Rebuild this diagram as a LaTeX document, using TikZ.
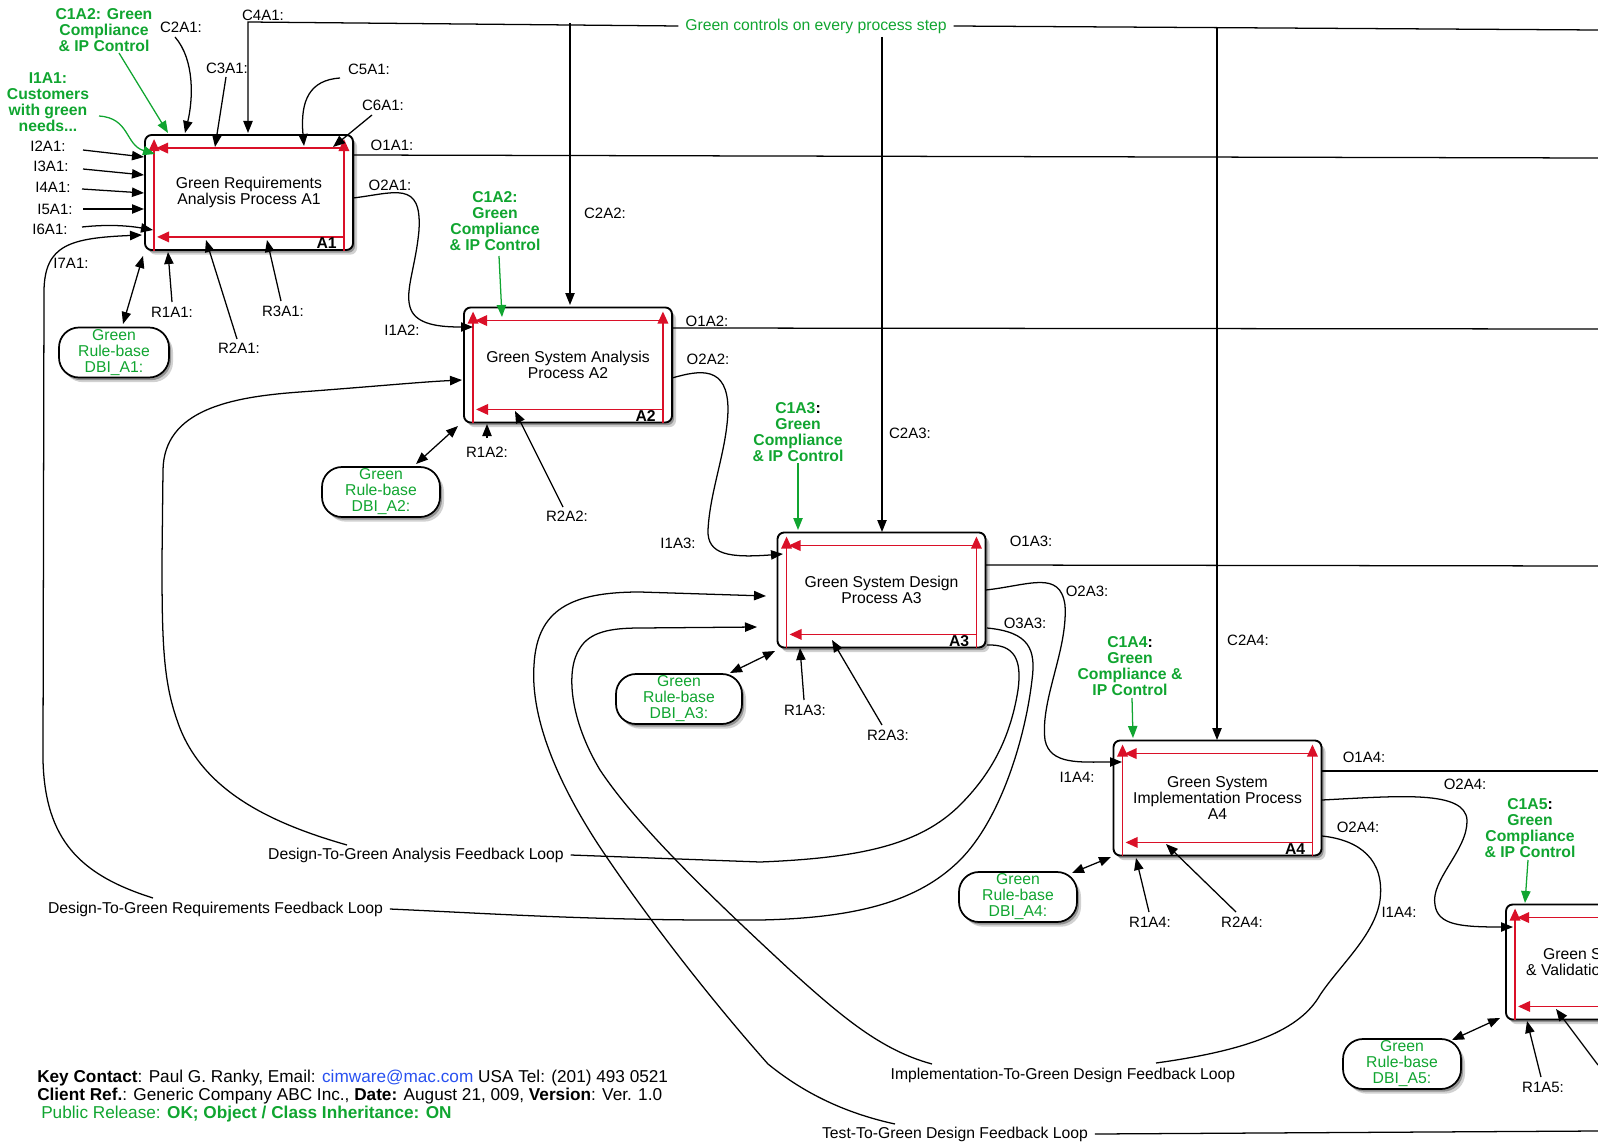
\documentclass[tikz,border=0pt]{standalone}
\usepackage{fontspec}
\setmainfont{Liberation Sans}
\usetikzlibrary{arrows.meta,calc,shadows}
\definecolor{grn}{RGB}{16,165,48}
\definecolor{rd}{RGB}{218,16,40}
\definecolor{eml}{RGB}{40,80,240}
\newcommand\mainsize{\fontsize{11.8}{12}\selectfont}
\tikzset{
 conn/.style={draw=black, line width=0.95pt},
 arr/.style={conn, -{Triangle[length=9pt,width=7pt]}},
 dbl/.style={conn, {Triangle[length=9pt,width=7pt]}-{Triangle[length=9pt,width=7pt]}},
 garr/.style={draw=grn, line width=0.95pt, -{Triangle[length=9pt,width=7pt]}},
 redl/.style={draw=rd, line width=1pt, -{Triangle[length=9pt,width=8pt]}},
 softshadow/.style={drop shadow={shadow xshift=1.5pt,shadow yshift=-2pt,opacity=.3,fill=black},
                    drop shadow={shadow xshift=3pt,shadow yshift=-3.5pt,opacity=.18,fill=black}},
 pbox/.style={draw, line width=1.4pt, rounded corners=5pt, fill=white, minimum width=156pt,
              minimum height=86.25pt, inner sep=0pt, softshadow},
 rbase/.style={draw, line width=1.3pt, rounded corners=15pt, fill=white, text=grn, inner sep=0pt,
               softshadow, minimum height=37.5pt},
 lbl/.style={inner sep=1pt, font=\fontsize{11.25}{12}\selectfont},
 glbl/.style={inner sep=1pt, text=grn, font=\mainsize\bfseries},
 looplbl/.style={inner xsep=5pt, inner ysep=1pt},
 boxid/.style={inner sep=0pt, font=\fontsize{11.8}{12}\selectfont\bfseries},
 foot/.style={anchor=west, inner sep=0pt, font=\fontsize{12.9}{14}\selectfont},
}
\newcommand\redframe[1]{%
 \draw[redl] ($(#1.south west)+(10,0)$) -- ($(#1.north west)+(10,5)$);
 \draw[redl] ($(#1.south east)+(-10,0)$) -- ($(#1.north east)+(-10,5)$);
 \draw[redl] ($(#1.north east)+(-10,14)$) -- ($(#1.north west)+(12,14)$);
 \draw[redl] ($(#1.south east)+(-10,-14)$) -- ($(#1.south west)+(13,-14)$);
 \node[boxid, anchor=base east] (#1id) at ($(#1.south east)+(-17,-2)$) {#1};
}
\begin{document}
\begin{tikzpicture}[x=0.75pt,y=-0.75pt, font=\mainsize, every node/.append style={align=center}]
\useasboundingbox (0,0) rectangle (1598,1145);
\clip (0,0) rectangle (1598,1145);

% process boxes
\node[pbox] (A1) at (249,192.5) {Green Requirements\\Analysis Process A1};
\node[pbox] (A2) at (568,365) {Green System Analysis\\Process A2};
\node[pbox] (A3) at (881.5,590) {Green System Design\\Process A3};
\node[pbox] (A4) at (1217.5,798) {Green System\\Implementation Process\\A4};
\node[pbox] (A5) at (1610,962) {Green System Test\\\& Validation Process A5};
\redframe{A1}
\redframe{A2}
\redframe{A3}
\redframe{A4}
\redframe{A5}

% rule-base nodes
\node[rbase, minimum width=82.5pt] (DB1) at (114,352.5) {Green\\Rule-base\\DBI\_A1:};
\node[rbase, minimum width=88.5pt] (DB2) at (381,492) {Green\\Rule-base\\DBI\_A2:};
\node[rbase, minimum width=94.5pt] (DB3) at (679,699) {Green\\Rule-base\\DBI\_A3:};
\node[rbase, minimum width=88.5pt] (DB4) at (1018,897) {Green\\Rule-base\\DBI\_A4:};
\node[rbase, minimum width=88.5pt] (DB5) at (1402,1064) {Green\\Rule-base\\DBI\_A5:};

% green labels
\node[glbl] (c1a2top) at (104,30) {C1A2: Green\\Compliance\\\& IP Control};
\node[glbl] (i1a1) at (48,102.5) {I1A1:\\Customers\\with green\\needs...};
\node[glbl] (c1a2) at (495,221) {C1A2:\\Green\\Compliance\\\& IP Control};
\node[glbl] (c1a3) at (798,432) {C1A3\textcolor{black}{:}\\Green\\Compliance\\\& IP Control};
\node[glbl] (c1a4) at (1130,666) {C1A4\textcolor{black}{:}\\Green\\Compliance \&\\IP Control};
\node[glbl] (c1a5) at (1530,828) {C1A5\textcolor{black}{:}\\Green\\Compliance\\\& IP Control};
\node[looplbl, text=grn] (gctl) at (816,26) {Green controls on every process step};

% black labels
\node[lbl] (C2A1) at (181,27) {C2A1:};
\node[lbl] (C3A1) at (227,68) {C3A1:};
\node[lbl] (C4A1) at (263,15) {C4A1:};
\node[lbl] (C5A1) at (369,69) {C5A1:};
\node[lbl] (C6A1) at (383,105) {C6A1:};
\node[lbl] (O1A1) at (392,145) {O1A1:};
\node[lbl] (O2A1) at (390,185) {O2A1:};
\node[lbl] (I2A1) at (48,146) {I2A1:};
\node[lbl] (I3A1) at (51,166) {I3A1:};
\node[lbl] (I4A1) at (53,187) {I4A1:};
\node[lbl] (I5A1) at (55,209) {I5A1:};
\node[lbl] (I6A1) at (50,229) {I6A1:};
\node[lbl] (I7A1) at (71,263) {I7A1:};
\node[lbl] (R1A1) at (172,312) {R1A1:};
\node[lbl] (R2A1) at (239,348) {R2A1:};
\node[lbl] (R3A1) at (283,311) {R3A1:};
\node[lbl] (I1A2) at (402,330) {I1A2:};
\node[lbl] (C2A2) at (605,213) {C2A2:};
\node[lbl] (O1A2) at (707,321) {O1A2:};
\node[lbl] (O2A2) at (708,359) {O2A2:};
\node[lbl] (R1A2) at (487,452) {R1A2:};
\node[lbl] (R2A2) at (567,516) {R2A2:};
\node[lbl] (I1A3) at (678,543) {I1A3:};
\node[lbl] (C2A3) at (910,433) {C2A3:};
\node[lbl] (O1A3) at (1031,541) {O1A3:};
\node[lbl] (O2A3) at (1087,591) {O2A3:};
\node[lbl] (O3A3) at (1025,623) {O3A3:};
\node[lbl] (R1A3) at (805,710) {R1A3:};
\node[lbl] (R2A3) at (888,735) {R2A3:};
\node[lbl] (C2A4) at (1248,640) {C2A4:};
\node[lbl] (I1A4a) at (1077,777) {I1A4:};
\node[lbl] (O1A4) at (1364,757) {O1A4:};
\node[lbl] (O2A4a) at (1465,784) {O2A4:};
\node[lbl] (O2A4b) at (1358,827) {O2A4:};
\node[lbl] (R1A4) at (1150,922) {R1A4:};
\node[lbl] (R2A4) at (1242,922) {R2A4:};
\node[lbl] (I1A4b) at (1399,912) {I1A4:};
\node[lbl] (R1A5) at (1543,1087) {R1A5:};

% feedback loop labels
\node[looplbl] (fbA) at (416,855) {Design-To-Green Analysis Feedback Loop};
\node[looplbl] (fbR) at (215.5,909) {Design-To-Green Requirements Feedback Loop};
\node[looplbl] (fbI) at (1063,1075) {Implementation-To-Green Design Feedback Loop};
\node[looplbl] (fbT) at (955,1134) {Test-To-Green Design Feedback Loop};

% footer
\node[foot] (key) at (37,1078) {\textbf{Key Contact}: Paul G. Ranky, Email: \textcolor{eml}{cimware@mac.com} USA Tel: (201) 493 0521};
\node[foot] (cli) at (37,1096) {\textbf{Client Ref.}: Generic Company ABC Inc., \textbf{Date:} August 21, 009, \textbf{Version}: Ver. 1.0};
\node[foot, text=grn] (pub) at (41,1114) {Public Release: \textbf{OK; Object / Class Inheritance: ON}};

% top control line
\draw[arr] (gctl.west) -- (248,22) -- (248,133);
\draw[conn] (gctl.east) -- (1598,30);
\draw[arr] (570,23) -- (570,305);
\draw[arr] (882,37) -- (882,532);
\draw[arr] (1217,28) -- (1217,740);

% outputs to the right edge
\draw[conn] (353,155) -- (1598,158);
\draw[conn] (672,328) -- (1598,329);
\draw[conn] (985,565) -- (1598,566);
\draw[conn] (1321,771) -- (1598,771);

% A1 controls
\draw[garr] (119,53) -- (168,133);
\draw[arr] (175,37) .. controls (195,60) and (193,100) .. (185,133);
\draw[arr] (226,77) -- (215,147);
\draw[arr] (340,78) .. controls (310,80) and (300,100) .. (304,146);
\draw[arr] (372,115) -- (333,147);
% A1 inputs
\draw[garr] (99,116) .. controls (130,118) and (125,145) .. (155,154);
\draw[arr] (83,150) -- (144,157);
\draw[arr] (83,169) -- (144,175);
\draw[arr] (82,189) -- (144,193);
\draw[arr] (83,209) -- (144,209);
\draw[arr] (82,227) .. controls (110,224) and (130,226) .. (153,230);
% A1 mechanisms
\draw[dbl] (123,324) -- (143,256);
\draw[arr] (172,302) -- (168,252);
\draw[arr] (237,339) -- (206,240);
\draw[arr] (281,301) -- (267,240);
% O2A1 -> A2
\draw[arr] (353,198) .. controls (395,193) and (422,180) .. (419,230) .. controls (416,265) and (405,290) .. (410,307) .. controls (415,325) and (440,327) .. (473,327);

% A2
\draw[garr] (499,256) -- (502,317);
\draw[dbl] (416,464) -- (458,426);
\draw[arr] (487,438) -- (487,424);
\draw[arr] (563,507) -- (515,411);
\draw[arr] (672,378) .. controls (700,370) and (728,365) .. (728,410) .. controls (727,450) and (710,490) .. (708,530) .. controls (707,555) and (730,558) .. (783,554);

% A3
\draw[garr] (798,463) -- (798,530);
\draw[dbl] (730,673) -- (775,651);
\draw[arr] (804,700) -- (800,648);
\draw[arr] (882,725) -- (832,640);
\draw[arr] (986,590) .. controls (1030,585) and (1060,570) .. (1065,605) .. controls (1068,650) and (1040,700) .. (1045,740) .. controls (1050,765) and (1080,762) .. (1122,762);

% A4
\draw[garr] (1132,698) -- (1133,738);
\draw[dbl] (1072,873) -- (1111,857);
\draw[arr] (1149,912) -- (1136,858);
\draw[arr] (1236,912) -- (1166,844);
\draw[arr] (1322,800) .. controls (1400,796) and (1465,790) .. (1467,820) .. controls (1468,850) and (1430,880) .. (1435,905) .. controls (1438,925) and (1460,927) .. (1513,927);

% A5
\draw[garr] (1528,860) -- (1525,903);
\draw[dbl] (1452,1040) -- (1500,1018);
\draw[arr] (1541,1077) -- (1527,1021);
\draw[arr] (1598,1065) -- (1556,1009);

% Design-To-Green Analysis Feedback Loop
\draw[conn] (987,645) .. controls (1015,644) and (1022,660) .. (1018,690) .. controls (1010,740) and (990,775) .. (960,805) .. controls (920,845) and (860,858) .. (760,862) -- (fbA.east);
\draw[arr] (347,845) .. controls (270,823) and (200,790) .. (177,720) .. controls (163,680) and (162,640) .. (162,560) -- (163,470) .. controls (164,410) and (230,397) .. (300,392) .. controls (380,386) and (420,382) .. (462,380);

% Design-To-Green Requirements Feedback Loop
\draw[conn] (987,628) .. controls (1030,632) and (1036,650) .. (1032,680) .. controls (1025,740) and (1000,820) .. (960,860) .. controls (920,900) and (860,918) .. (760,920) .. controls (600,921) and (500,914) .. (fbR.east);
\draw[arr] (153,898) .. controls (80,875) and (45,840) .. (43,760) -- (44,290) .. controls (45,245) and (70,238) .. (142,235);

% Implementation-To-Green Design Feedback Loop
\draw[conn] (1322,836) .. controls (1360,840) and (1385,860) .. (1380,900) .. controls (1375,935) and (1340,965) .. (1320,995) .. controls (1300,1030) and (1250,1050) .. (1156,1063);
\draw[arr] (932,1064) .. controls (880,1050) and (840,1015) .. (790,970) .. controls (720,905) and (640,830) .. (600,770) .. controls (570,720) and (565,670) .. (580,648) .. controls (590,632) and (610,628) .. (640,628) -- (757,627);

% Test-To-Green Design Feedback Loop
\draw[conn] (fbT.east) -- (1598,1131);
\draw[arr] (895,1124) .. controls (840,1112) and (800,1090) .. (768,1064) .. controls (720,1010) and (660,935) .. (610,862) .. controls (560,790) and (530,720) .. (534,665) .. controls (537,610) and (570,592) .. (640,592) -- (766,596);
\end{tikzpicture}
\end{document}
